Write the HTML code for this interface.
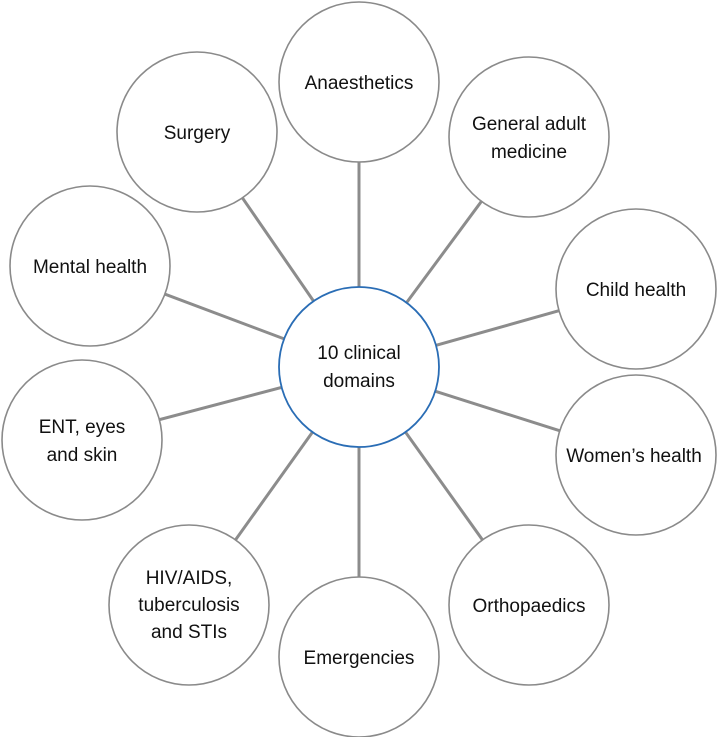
<!DOCTYPE html>
<html><head><meta charset="utf-8"><style>
html,body{margin:0;padding:0;background:#fff;}
svg{display:block}
text{font-family:"Liberation Sans",sans-serif;font-size:19px;fill:#111;text-anchor:middle}
</style></head><body>
<svg width="717" height="737" viewBox="0 0 717 737">
<g stroke="#8c8c8c" stroke-width="3">
<line x1="359" y1="367" x2="359" y2="82"/>
<line x1="359" y1="367" x2="529" y2="137"/>
<line x1="359" y1="367" x2="636" y2="289"/>
<line x1="359" y1="367" x2="636" y2="455"/>
<line x1="359" y1="367" x2="529" y2="605"/>
<line x1="359" y1="367" x2="359" y2="657"/>
<line x1="359" y1="367" x2="189" y2="605"/>
<line x1="359" y1="367" x2="82" y2="440"/>
<line x1="359" y1="367" x2="90" y2="266"/>
<line x1="359" y1="367" x2="197" y2="132"/>
</g>
<g fill="#fff" stroke="#8a8a8a" stroke-width="1.6">
<circle cx="359" cy="82" r="80"/>
<circle cx="529" cy="137" r="80"/>
<circle cx="636" cy="289" r="80"/>
<circle cx="636" cy="455" r="80"/>
<circle cx="529" cy="605" r="80"/>
<circle cx="359" cy="657" r="80"/>
<circle cx="189" cy="605" r="80"/>
<circle cx="82" cy="440" r="80"/>
<circle cx="90" cy="266" r="80"/>
<circle cx="197" cy="132" r="80"/>
</g>
<circle cx="359" cy="367" r="80" fill="#fff" stroke="#2a6db5" stroke-width="1.8"/>
<text x="359" y="359">10 clinical</text>
<text x="359" y="387">domains</text>
<text x="359" y="89">Anaesthetics</text>
<text x="529" y="130">General adult</text>
<text x="529" y="158">medicine</text>
<text x="636" y="296">Child health</text>
<text x="634" y="462">Women’s health</text>
<text x="529" y="612">Orthopaedics</text>
<text x="359" y="664">Emergencies</text>
<text x="189" y="584">HIV/AIDS,</text>
<text x="189" y="611">tuberculosis</text>
<text x="189" y="638">and STIs</text>
<text x="82" y="433">ENT, eyes</text>
<text x="82" y="461">and skin</text>
<text x="90" y="273">Mental health</text>
<text x="197" y="139">Surgery</text>
</svg>
</body></html>
